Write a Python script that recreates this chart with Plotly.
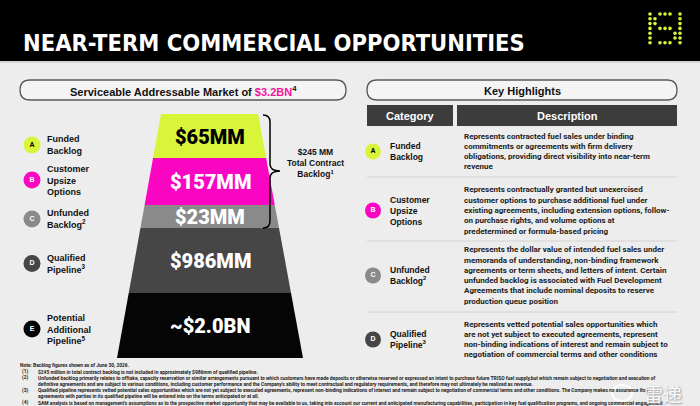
import plotly.graph_objects as go

# ---------------- data ----------------
letters = ["A", "B", "C", "D", "E"]
categories = ["Funded<br>Backlog", "Customer<br>Upsize<br>Options", "Unfunded<br>Backlog<sup>2</sup>",
              "Qualified<br>Pipeline<sup>3</sup>", "Potential<br>Additional<br>Pipeline<sup>5</sup>"]
value_labels = ["$65MM", "$157MM", "$23MM", "$986MM", "~$2.0BN"]
values_mm = [65, 157, 23, 986, 2000]
backlog_total_label = "$245 MM<br>Total Contract<br>Backlog<sup>1</sup>"
sam_label = "$3.2BN"

table_categories = ["Funded<br>Backlog", "Customer<br>Upsize<br>Options", "Unfunded<br>Backlog<sup>2</sup>",
                    "Qualified<br>Pipeline<sup>3</sup>"]
table_descriptions = [
    ["Represents contracted fuel sales under binding",
     "commitments or agreements with firm delivery",
     "obligations, providing direct visibility into near-term",
     "revenue"],
    ["Represents contractually granted but unexercised",
     "customer options to purchase additional fuel under",
     "existing agreements, including extension options, follow-",
     "on purchase rights, and volume options at",
     "predetermined or formula-based pricing"],
    ["Represents the dollar value of intended fuel sales under",
     "memoranda of understanding, non-binding framework",
     "agreements or term sheets, and letters of intent. Certain",
     "unfunded backlog is associated with Fuel Development",
     "Agreements that include nominal deposits to reserve",
     "production queue position"],
    ["Represents vetted potential sales opportunities which",
     "are not yet subject to executed agreements, represent",
     "non-binding indications of interest and remain subject to",
     "negotiation of commercial terms and other conditions"],
]
footnotes = [
    ("Note:", "Backlog figures shown as of June 30, 2026."),
    ("(1)", "$245 million in total contract backlog is not included in approximately $986mm of qualified pipeline."),
    ("(2)", "Unfunded backlog primarily relates to offtake, capacity reservation or similar arrangements pursuant to which customers have made deposits or otherwise reserved or expressed an intent to purchase future TRISO fuel supply,but which remain subject to negotiation and execution of"),
    ("", "definitive agreements and are subject to various conditions, including customer performance and the Company's ability to meet contractual and regulatory requirements, and therefore may not ultimately be realized as revenue."),
    ("(3)", "Qualified pipeline represents vetted potential sales opportunities which are not yet subject to executed agreements, represent non-binding indications of interest and remain subject to negotiation of commercial terms and other conditions. The Company makes no assurance that"),
    ("", "agreements with parties in its qualified pipeline will be entered into on the terms anticipated or at all."),
    ("(4)", "SAM analysis is based on management's assumptions as to the prospective market opportunity that may be available to us, taking into account our current and anticipated manufacturing capabilities, participation in key fuel qualification programs, and ongoing commercial engagement"),
]

# ---------------- styles ----------------
seg_colors = ["#d8f53a", "#fa05c2", "#8a8a8a", "#464646", "#050505"]
seg_text_colors = ["#000000", "#ffffff", "#ffffff", "#ffffff", "#ffffff"]
badge_text_colors = ["#000000", "#ffffff", "#ffffff", "#ffffff", "#ffffff"]
BG = "#ededed"
HEAVY = "Liberation Sans, Arial, sans-serif"
COND = "DejaVu Sans Condensed, sans-serif"
SMALL = "Roboto, sans-serif"

fig = go.Figure()
shapes = []
ann = []

# header band
shapes.append(dict(type="rect", x0=0, x1=700, y0=0, y1=61, fillcolor="#000000", line_width=0, layer="below"))
shapes.append(dict(type="rect", x0=0, x1=700, y0=61, y1=63, fillcolor="#d6d6d6", line_width=0, layer="below"))
ann.append(dict(x=21, y=43, text="<b>NEAR-TERM COMMERCIAL OPPORTUNITIES</b>", xanchor="left", yanchor="middle",
                showarrow=False, font=dict(family=COND, size=23.5, color="white")))

# logo dots
logo = ["X.XXX.X", "XX....X", "XX....X", "X.XXX.X", "X....XX", "X....XX", "X.XXX.X"]
lx, ly = [], []
for r, row in enumerate(logo):
    for c, ch in enumerate(row):
        if ch == "X":
            lx.append(650 + 5 * c)
            ly.append(14 + 4.8 * r)
fig.add_trace(go.Scatter(x=lx, y=ly, mode="markers", marker=dict(size=3.6, color="#d8f53a"),
                         hoverinfo="skip", showlegend=False))


def pill(x0, x1, y0, y1, r=10):
    p = (f"M {x0+r},{y0} L {x1-r},{y0} Q {x1},{y0} {x1},{y0+r} L {x1},{y1-r} Q {x1},{y1} {x1-r},{y1} "
         f"L {x0+r},{y1} Q {x0},{y1} {x0},{y1-r} L {x0},{y0+r} Q {x0},{y0} {x0+r},{y0} Z")
    return dict(type="path", path=p, fillcolor="#f4f4f4", line=dict(color="#5a5a5a", width=1.3), layer="below")


shapes.append(pill(20, 346, 80, 100))
shapes.append(pill(367, 677, 80, 100))
ann.append(dict(x=183, y=90.5, text=f"<b>Serviceable Addressable Market of <span style='color:#f2169e'>{sam_label}</span><sup>4</sup></b>",
                showarrow=False, font=dict(family=HEAVY, size=11, color="#111")))
ann.append(dict(x=522, y=90.5, text="<b>Key Highlights</b>", showarrow=False,
                font=dict(family=HEAVY, size=11, color="#111")))

# funnel geometry (visual, not proportional)
bounds = [114, 158, 205, 228, 293, 358]
top_l, top_r, bot_l, bot_r = 161, 258, 117, 303
Y0, Y1 = bounds[0], bounds[-1]


def xl(y):
    return top_l + (bot_l - top_l) * (y - Y0) / (Y1 - Y0)


def xr(y):
    return top_r + (bot_r - top_r) * (y - Y0) / (Y1 - Y0)


for i in range(len(value_labels)):
    ya, yb = bounds[i], bounds[i + 1]
    fig.add_trace(go.Scatter(x=[xl(ya), xr(ya), xr(yb), xl(yb), xl(ya)], y=[ya, ya, yb, yb, ya],
                             mode="lines", fill="toself", fillcolor=seg_colors[i], line=dict(width=0),
                             hoverinfo="skip", showlegend=False))
    ann.append(dict(x=210, y=(ya + yb) / 2 + 0.5, text=value_labels[i], showarrow=False,
                    font=dict(family="Roboto, Liberation Sans, sans-serif", weight=900, size=20,
                              color=seg_text_colors[i])))

# left badges + labels
left_y = [145, 180, 219, 263.5, 329]
fig.add_trace(go.Scatter(x=[32] * 5, y=left_y, mode="markers+text", text=[f"<b>{l}</b>" for l in letters],
                         textposition="middle center", textfont=dict(family=HEAVY, size=7, color=badge_text_colors),
                         marker=dict(size=17, color=seg_colors, line=dict(width=0)),
                         hoverinfo="skip", showlegend=False))
for i, c in enumerate(categories):
    ann.append(dict(x=45, y=left_y[i], text=f"<b>{c}</b>", xanchor="left", yanchor="middle", align="left",
                    showarrow=False, font=dict(family=HEAVY, size=9, color="#111")))

# brace
shapes.append(dict(type="path",
                   path="M 263,115 Q 270,115 270,122 L 270,164 Q 270,171 280,171 Q 270,171 270,178 L 270,221 Q 270,228 263,228",
                   line=dict(color="#000", width=1.5)))
ann.append(dict(x=315, y=163, text=f"<b>{backlog_total_label}</b>", showarrow=False, align="center",
                font=dict(family=HEAVY, size=8.5, color="#111")))

# table
shapes.append(dict(type="rect", x0=367, x1=453, y0=105, y1=126, fillcolor="#3c3c3c", line_width=0))
shapes.append(dict(type="rect", x0=457, x1=677, y0=105, y1=126, fillcolor="#3c3c3c", line_width=0))
ann.append(dict(x=410, y=115.5, text="<b>Category</b>", showarrow=False, font=dict(family=HEAVY, size=11, color="white")))
ann.append(dict(x=567, y=115.5, text="<b>Description</b>", showarrow=False, font=dict(family=HEAVY, size=11, color="white")))
row_y = [151.5, 210.5, 275.5, 339.5]
for ysep in [177, 241, 312]:
    shapes.append(dict(type="line", x0=367, x1=677, y0=ysep, y1=ysep, line=dict(color="#d2d2d2", width=1)))
fig.add_trace(go.Scatter(x=[373] * 4, y=row_y, mode="markers+text", text=[f"<b>{l}</b>" for l in letters[:4]],
                         textposition="middle center", textfont=dict(family=HEAVY, size=7, color=badge_text_colors[:4]),
                         marker=dict(size=16, color=seg_colors[:4], line=dict(width=0)),
                         hoverinfo="skip", showlegend=False))
LINE_H = 10.3
for i in range(4):
    ann.append(dict(x=388, y=row_y[i], text=f"<b>{table_categories[i]}</b>", xanchor="left", yanchor="middle",
                    align="left", showarrow=False, font=dict(family=HEAVY, size=8.5, color="#111")))
    lines = table_descriptions[i]
    start = row_y[i] - LINE_H * (len(lines) - 1) / 2
    for k, line in enumerate(lines):
        ann.append(dict(x=462, y=start + k * LINE_H, text=line, xanchor="left", yanchor="middle",
                        align="left", showarrow=False,
                        font=dict(family=SMALL, weight=700, size=8, color="#222")))

# footnotes
fy = [365, 371.5, 377.8, 384, 390.2, 396.4, 402.6]
FN = dict(family=SMALL, weight=700, size=4.9, color="#222")
for (tag, txt), y in zip(footnotes, fy):
    if tag == "Note:":
        ann.append(dict(x=18, y=y, text=f"{tag} {txt}", xanchor="left", showarrow=False, font=FN))
    else:
        if tag:
            ann.append(dict(x=20, y=y, text=tag, xanchor="left", showarrow=False, font=FN))
        ann.append(dict(x=36, y=y, text=txt, xanchor="left", showarrow=False, font=FN))

# watermark
shapes.append(dict(type="circle", x0=612, x1=632, y0=385, y1=401, line=dict(color="rgba(255,255,255,0.9)", width=2)))
ann.append(dict(x=663, y=393, text="雷递", showarrow=False,
                font=dict(family="Noto Sans CJK SC", size=19, color="rgba(255,255,255,0.92)",
                          shadow="1px 1px 2px #888")))

fig.update_layout(
    width=700, height=406, margin=dict(l=0, r=0, t=0, b=0),
    paper_bgcolor=BG, plot_bgcolor=BG,
    xaxis=dict(range=[0, 700], visible=False, fixedrange=True),
    yaxis=dict(range=[406, 0], visible=False, fixedrange=True),
    shapes=shapes, annotations=ann, showlegend=False,
)
fig.write_html("out.html", config={"displayModeBar": False},
               post_script="document.body.style.margin='0';document.body.style.overflow='hidden';")
